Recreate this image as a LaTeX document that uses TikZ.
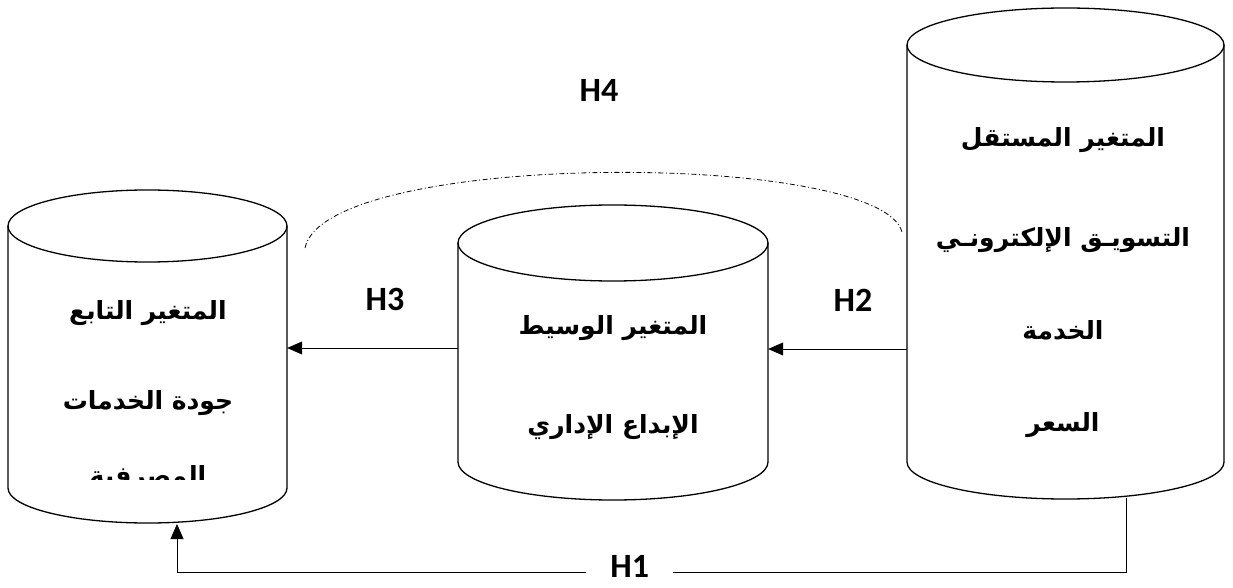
\documentclass[tikz,border=0pt]{standalone}
\usepackage{fontspec}
\usetikzlibrary{arrows.meta}
\TeXXeTstate=1
\newfontfamily\arabicfont[Script=Arabic]{DejaVu Sans}
\newfontfamily\labfont{Carlito}
\tikzset{
  cyl/.style={line width=1.3pt},
  body/.style={inner sep=0pt, draw=none},
  ar/.style={font=\arabicfont\bfseries\fontsize{25}{29}\selectfont, inner sep=0pt},
  hlab/.style={font=\labfont\bfseries\fontsize{34}{40}\selectfont},
  conn/.style={line width=0.8pt},
  arr/.style={conn, -{Triangle[length=15pt,width=13pt]}},
  dashdot/.style={line width=0.8pt, dash pattern=on 5pt off 2.5pt on 1pt off 2.5pt}
}
\begin{document}
\begin{tikzpicture}[x=1pt,y=1pt]
\useasboundingbox (0,0) rectangle (1233,587);

% left cylinder
\draw[cyl] (147.5,361) ellipse [x radius=139.5, y radius=36];
\draw[cyl] (8,361) -- (8,99) arc[start angle=180, end angle=360, x radius=139.5, y radius=35] -- (287,361);
\node[body, minimum width=279pt, minimum height=262pt] (L) at (147.5,230) {};

% middle cylinder
\draw[cyl] (613,344) ellipse [x radius=155, y radius=38];
\draw[cyl] (458,344) -- (458,125) arc[start angle=180, end angle=360, x radius=155, y radius=38] -- (768,344);
\node[body, minimum width=310pt, minimum height=219pt] (M) at (613,234.5) {};

% right cylinder
\draw[cyl] (1065.5,542) ellipse [x radius=158.5, y radius=37];
\draw[cyl] (907,542) -- (907,125) arc[start angle=180, end angle=360, x radius=158.5, y radius=37] -- (1224,542);
\node[body, minimum width=317pt, minimum height=417pt] (R) at (1065.5,333.5) {};

% texts
\node[ar] (l1) at (148,274) {\beginR المتغير التابع\endR};
\node[ar] (l2) at (148,184) {\beginR جودة الخدمات\endR};
\begin{scope}
  \clip (10,108) rectangle (285,140);
  \node[ar, anchor=base] (l3) at (148,103) {\beginR المصرفية\endR};
\end{scope}
\node[ar] (m1) at (613,259) {\beginR المتغير الوسيط\endR};
\node[ar] (m2) at (613,160) {\beginR الإبداع الإداري\endR};
\node[ar] (r1) at (1063,447) {\beginR المتغير المستقل\endR};
\node[ar] (r2) at (1063,347) {\beginR التسويـق الإلكترونـي\endR};
\node[ar] (r3) at (1063,257) {\beginR الخدمة\endR};
\node[ar] (r4) at (1063,162) {\beginR السعر\endR};

% labels
\node[hlab] (h4) at (599,497) {H4};
\node[hlab] (h3) at (385,288) {H3};
\node[hlab] (h2) at (853,287) {H2};

% connectors
\draw[arr] (R.west |- 0,238) -- (M.east |- 0,238);
\draw[arr] (M.west |- 0,239) -- (L.east |- 0,239);

\coordinate (a1) at (305,339);
\coordinate (a2) at (902,355);
\draw[dashdot] (a1) .. controls (325,437) and (880,437) .. (a2);

\coordinate (h1s) at (1126,89);
\coordinate (h1e) at (177,63);
\draw[arr] (h1s) -- (1126,15) -- node[pos=0.523, fill=white, hlab, inner xsep=24pt, inner ysep=1pt, yshift=6pt] (h1) {H1} (177,15) -- (h1e);
\end{tikzpicture}
\end{document}
